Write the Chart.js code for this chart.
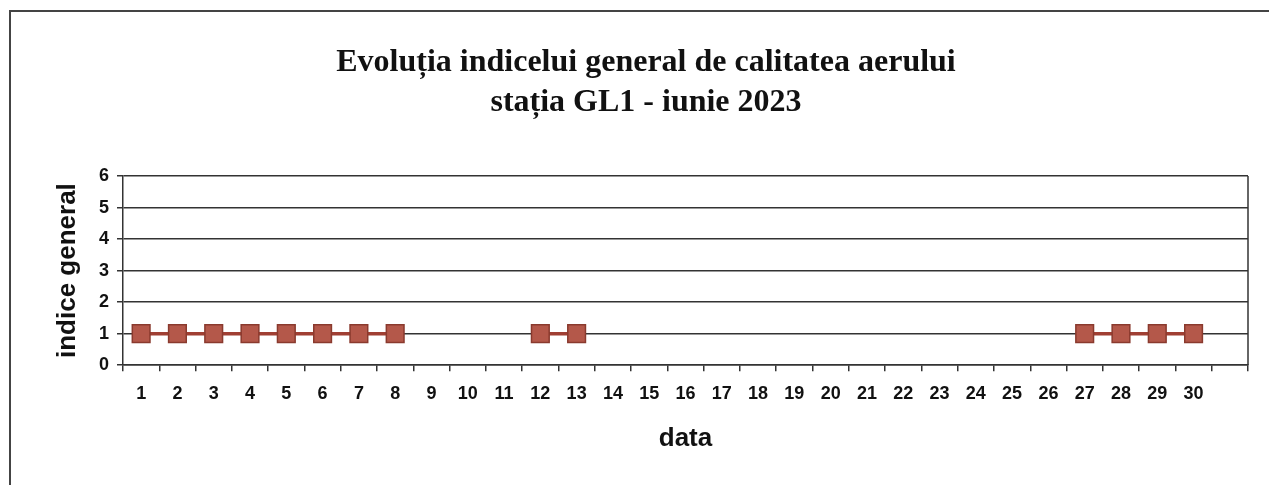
<!DOCTYPE html>
<html>
<head>
<meta charset="utf-8">
<script src="https://cdn.jsdelivr.net/npm/chart.js@4"></script>
<style>
  body{margin:0;background:#fff;}
  .wrap{position:relative;width:1269px;height:485px;overflow:hidden;background:#fff;}
  .frame{position:absolute;left:9px;top:10px;width:1300px;height:600px;border-left:2px solid #444;border-top:2px solid #444;}
  canvas{position:absolute;left:0;top:0;}
</style>
</head>
<body>
<div class="wrap">
  <div class="frame"></div>
  <canvas id="myChart" width="1269" height="485"></canvas>
</div>
<script>
document.addEventListener('DOMContentLoaded', function() {
// ***********data***********
const days=['1','2','3','4','5','6','7','8','9','10','11','12','13','14','15','16','17','18','19','20','21','22','23','24','25','26','27','28','29','30',''];
const indiceGeneral=[1,1,1,1,1,1,1,1,null,null,null,1,1,null,null,null,null,null,null,null,null,null,null,null,null,null,1,1,1,1,null];
const yTicks=[0,1,2,3,4,5,6];
const titleLines=['Evoluția indicelui general de calitatea aerului','stația GL1 - iunie 2023'];

// ********right border of plot area******
const rightBorder={
  id:'rightBorder',
  afterDraw(chart){
    const {ctx,chartArea}=chart;
    ctx.save();
    ctx.strokeStyle='#333';
    ctx.lineWidth=1.5;
    ctx.beginPath();
    ctx.moveTo(chartArea.right,chartArea.top);
    ctx.lineTo(chartArea.right,chartArea.bottom);
    ctx.stroke();
    ctx.restore();
  }
};

const sans='"Liberation Sans", Arial, sans-serif';
const ctx=document.getElementById('myChart');
new Chart(ctx,{
  type:'line',
  data:{
    labels:days,
    datasets:[{
      label:'indice general',
      data:indiceGeneral,
      borderColor:'#a03f33',
      borderWidth:3.5,
      backgroundColor:'#b4584a',
      pointStyle:'rect',
      pointRadius:12.5,
      pointBorderColor:'#8a3a2e',
      pointBorderWidth:1.5,
      spanGaps:false,
      tension:0
    }]
  },
  options:{
    responsive:false,
    animation:false,
    layout:{padding:{left:44,right:21,top:0,bottom:31}},
    plugins:{
      legend:{display:false},
      tooltip:{enabled:false},
      title:{
        display:true,
        text:titleLines,
        color:'#111',
        font:{family:'"Liberation Serif", "Times New Roman", serif',size:32,weight:'bold',lineHeight:1.25},
        padding:{top:43,bottom:53}
      }
    },
    scales:{
      x:{
        type:'category',
        offset:true,
        grid:{offset:true,drawOnChartArea:false,drawTicks:true,tickLength:6,color:'#333',lineWidth:1.5},
        border:{color:'#333',width:1.5},
        ticks:{color:'#111',padding:12,autoSkip:false,maxRotation:0,font:{family:sans,size:18,weight:'bold'}},
        title:{display:true,text:'data',color:'#111',padding:{top:6,bottom:0},font:{family:sans,size:26,weight:'bold'}}
      },
      y:{
        min:0,max:6,
        afterFit(scale){scale.width=79;},
        afterBuildTicks(scale){scale.ticks=yTicks.map(v=>({value:v}));},
        grid:{color:'#333',lineWidth:1.5,tickLength:6},
        border:{color:'#333',width:1.5},
        ticks:{color:'#111',padding:8,font:{family:sans,size:18,weight:'bold'}},
        title:{display:true,text:'indice general',color:'#111',padding:{top:8,bottom:0},font:{family:sans,size:26,weight:'bold'}}
      }
    }
  },
  plugins:[rightBorder]
});
});
</script>
</body>
</html>
